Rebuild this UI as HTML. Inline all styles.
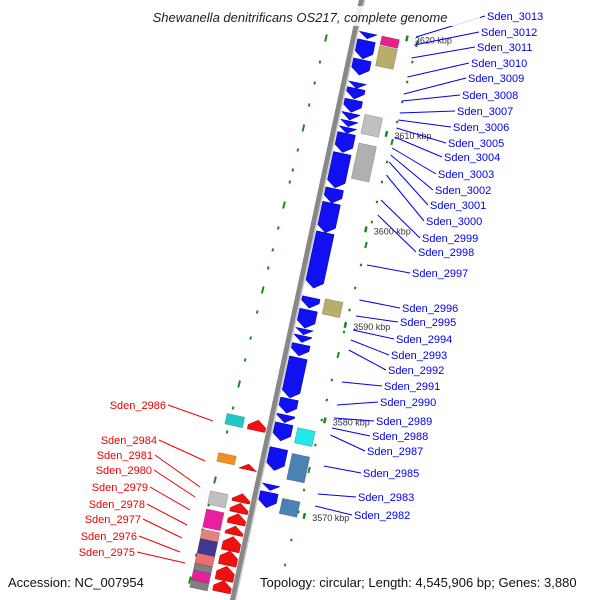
<!DOCTYPE html>
<html><head><meta charset="utf-8"><style>
html,body{margin:0;background:#fff;overflow:hidden;width:600px;height:600px}
svg{display:block;font-family:"Liberation Sans",sans-serif}
</style></head><body>
<svg id="map" width="600" height="600" viewBox="0 0 600 600">
<defs><clipPath id="frame"><rect width="600" height="600"/></clipPath></defs>
<rect width="600" height="600" fill="#fff"/>
<g clip-path="url(#frame)">
<g id="dots"></g>
<g id="bb"></g>
<g id="genes"></g>
<g id="cogs"></g>
<g id="ticks"></g>
<g id="labels"></g>
</g>
<rect x="120" y="6" width="360" height="20" fill="#fff" opacity="0.85"/>
<text x="300" y="22" text-anchor="middle" font-size="13" font-style="italic" fill="#222">Shewanella denitrificans OS217, complete genome</text>
<text x="8" y="587" font-size="13" fill="#111">Accession: NC_007954</text>
<text x="260" y="587" font-size="13" fill="#111">Topology: circular; Length: 4,545,906 bp; Genes: 3,880</text>
</svg>
<script>
const fwdStart=[3619.7,3618.9,3616.9,3614.5,3613.9,3612.7,3611.3,3610.5,3609.8,3609.2,3607.1,3603.4,3601.9,3598.8,3592.0,3590.7,3588.7,3588.0,3587.1,3585.7,3581.4,3579.7,3578.8,3576.2,3572.4,3571.6];
const fwdEnd=[3619.1,3617.0,3615.3,3613.9,3612.8,3611.4,3610.6,3609.9,3609.2,3607.2,3603.5,3601.9,3598.8,3593.0,3590.9,3588.8,3588.1,3587.3,3585.9,3581.5,3579.9,3578.9,3577.0,3573.9,3571.8,3570.0];
const revStart=[3577.5,3573.4,3570.0,3568.9,3567.7,3566.6,3564.9,3563.4,3561.8,3560.6];
const revEnd=[3578.6,3574.0,3570.9,3569.9,3568.8,3567.5,3566.4,3564.9,3563.3,3561.8];
const cogRStart=[3619.7,3618.7,3611.5,3608.5,3592.2,3578.7,3576.0,3571.3];
const cogREnd=[3618.8,3616.6,3609.5,3604.8,3590.6,3577.1,3573.3,3569.7];
const cogRColor=["#e8208a","#b8ad6a","#c0c0c0","#b0b0b0","#b8ad6a","#22e8e8","#4a82b4","#4a82b4"];
const cogLStart=[3578.6,3574.5,3570.5,3568.6,3566.5,3565.5,3564.0,3562.9,3562.2,3561.2];
const cogLEnd=[3577.5,3573.6,3569.1,3566.7,3565.5,3563.9,3562.9,3562.2,3561.2,3560.4];
const cogLColor=["#20c8c8","#f09020","#c0c0c0","#e820a0","#e88080","#403890","#e87070","#808080","#e820a0","#808080"];
const tickKbp=[3620,3610,3600,3590,3580,3570];
const tickText=["3620 kbp","3610 kbp","3600 kbp","3590 kbp","3580 kbp","3570 kbp"];
const leftDotY=[38,62,83,105,128,150,170,182,205,228,250,268,290,312,338,360,384,408,432,457,480,505,530,555,580];
const rightDotY=[44,62,82,102,122,142,162,182,202,222,245,265,288,310,332,355,380,400,420,445,470,490,512,540,565];
const rNames=["Sden_3013","Sden_3012","Sden_3011","Sden_3010","Sden_3009","Sden_3008","Sden_3007","Sden_3006","Sden_3005","Sden_3004","Sden_3003","Sden_3002","Sden_3001","Sden_3000","Sden_2999","Sden_2998","Sden_2997","Sden_2996","Sden_2995","Sden_2994","Sden_2993","Sden_2992","Sden_2991","Sden_2990","Sden_2989","Sden_2988","Sden_2987","Sden_2985","Sden_2983","Sden_2982"];
const rLabY=[20,36,51,67,82,99,115,131,147,161,178,194,209,225,242,256,277,312,326,343,359,374,390,406,425,440,455,477,501,519];
const rLabX=[487,481,477,471,468,462,457,453,448,444,438,435,430,426,422,418,412,402,400,396,391,388,384,380,376,372,367,363,358,354];
const rTgtY=[37,45,58,77,94,101,113,120,128,137,148,155,162,175,200,215,265,300,316,330,340,350,382,405,418,428,435,466,494,506];
const lNames=["Sden_2986","Sden_2984","Sden_2981","Sden_2980","Sden_2979","Sden_2978","Sden_2977","Sden_2976","Sden_2975"];
const lLabY=[409,444,459,474,491,508,523,540,556];
const lLabX=[166,157,153,152,148,145,141,137,135];
const lTgtX=[213,205,200,195,190,187,182,180,185];
const lTgtY=[421,461,487,497,510,525,538,552,563];
const NS="http://www.w3.org/2000/svg";
const C=0.978,S=0.21;
function yOf(k){return 505-(k-3570)*9.55;}
function P(k,off){const y0=yOf(k),x0=362-0.215*y0;return [x0+off*C,y0+off*S];}
function poly(pts){return pts.map(p=>p[0].toFixed(1)+","+p[1].toFixed(1)).join(" ");}
function mk(tag,attrs,parent){const e=document.createElementNS(NS,tag);for(const a in attrs)e.setAttribute(a,attrs[a]);parent.appendChild(e);return e;}
const bb=document.getElementById('bb');
let a=P(3623,0),b=P(3560,0);
let l1=mk('line',{x1:a[0],y1:a[1],x2:b[0],y2:b[1],stroke:'#888','stroke-width':6},bb);


let a2=P(3623,2.5),b2=P(3560,2.5);
mk('line',{x1:a2[0],y1:a2[1],x2:b2[0],y2:b2[1],stroke:'#ccc','stroke-width':1.5},bb);
const dots=document.getElementById('dots');
leftDotY.forEach((y,i)=>{
 const x=335.5-0.251*y, len=(i%4===0)?3.5:1.5;
 mk('line',{x1:x+len*0.25,y1:y-len,x2:x-len*0.25,y2:y+len,stroke:'#1a8a1a','stroke-width':2},dots);
});
rightDotY.forEach((y,i)=>{
 const x=428-0.253*y, len=(i%5===0)?3:1.3;
 mk('line',{x1:x+len*0.25,y1:y-len,x2:x-len*0.25,y2:y+len,stroke:'#1a8a1a','stroke-width':2},dots);
});
const g=document.getElementById('genes');
fwdStart.forEach((s,i)=>{
 const e=fwdEnd[i],h=Math.min(0.65,(s-e));
 const el=mk('polygon',{points:poly([P(s,4),P(s,22),P(e+h,22),P(e,13),P(e+h,4)]),fill:'#1010f0',stroke:'#0000b0','stroke-width':0.5},g);
 
 
});
revStart.forEach((s,i)=>{
 const e=revEnd[i],h=Math.min(0.65,(e-s));
 const el=mk('polygon',{points:poly([P(s,-4),P(s,-22),P(e-h,-22),P(e,-13),P(e-h,-4)]),fill:'#f01010',stroke:'#b00000','stroke-width':0.5},g);
 
 
});
const cg=document.getElementById('cogs');
cogRStart.forEach((s,i)=>{
 const e=cogREnd[i];
 const el=mk('polygon',{points:poly([P(s,27),P(s,45),P(e,45),P(e,27)]),fill:cogRColor[i],stroke:'rgba(0,0,0,0.25)','stroke-width':0.7},cg);
 
 
});
cogLStart.forEach((s,i)=>{
 const e=cogLEnd[i];
 const el=mk('polygon',{points:poly([P(s,-27),P(s,-45),P(e,-45),P(e,-27)]),fill:cogLColor[i],stroke:'rgba(0,0,0,0.25)','stroke-width':0.7},cg);
 
 
});
const tk=document.getElementById('ticks');
tickKbp.forEach((k,i)=>{
 const p1=P(k+0.3,52),p2=P(k-0.3,52),q=P(k,56);
 mk('line',{x1:p1[0],y1:p1[1],x2:p2[0],y2:p2[1],stroke:'#1a8a1a','stroke-width':2.5},tk);
 const t=mk('text',{x:q[0]+4,y:q[1]+4,'font-size':9,fill:'#333'},tk);
 t.textContent=tickText[i];
 
 
});
const lb=document.getElementById('labels');
rNames.forEach((n,i)=>{
 const ty=rTgtY[i],tx=362-0.215*ty+62;
 mk('line',{x1:rLabX[i]-2,y1:rLabY[i]-4,x2:tx,y2:ty,stroke:'#0000ee','stroke-width':1},lb);
 const t=mk('text',{x:rLabX[i],y:rLabY[i],'font-size':11,fill:'#0000ee'},lb);
 t.textContent=n;
 
 
});
lNames.forEach((n,i)=>{
 mk('line',{x1:lLabX[i]+2,y1:lLabY[i]-4,x2:lTgtX[i],y2:lTgtY[i],stroke:'#ee0000','stroke-width':1},lb);
 const t=mk('text',{x:lLabX[i],y:lLabY[i],'font-size':11,fill:'#ee0000','text-anchor':'end'},lb);
 t.textContent=n;
 
 
});
</script>
</body></html>
